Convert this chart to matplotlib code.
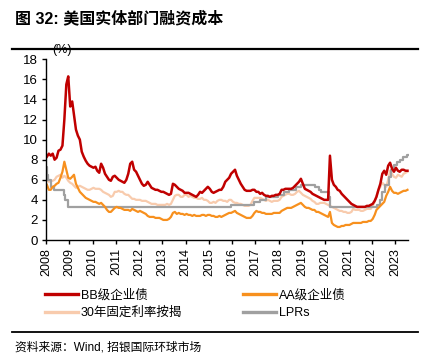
import datetime as dt
import pandas as pd
import matplotlib
matplotlib.use("Agg")
import matplotlib.pyplot as plt
import matplotlib.dates as mdates

plt.rcParams['font.family'] = ['Liberation Sans', 'Noto Sans CJK SC']

# monthly values, Jan 2008 - Jul 2023
bb_yield = [
    8.3, 8.6, 8.4, 8.6, 8.0, 8.2, 8.9, 9.0, 9.4, 12.0, 15.5, 16.3,
    13.3, 13.8, 12.5, 11.0, 10.4, 10.0, 8.8, 8.3, 7.9, 7.6, 7.4, 7.3,
    7.2, 7.3, 6.9, 6.7, 7.6, 7.2, 6.6, 6.3, 6.0, 5.9, 6.3, 6.4,
    6.2, 6.0, 5.9, 5.8, 5.7, 6.0, 6.6, 7.6, 7.8, 7.0, 6.8, 6.4,
    6.0, 5.6, 5.4, 5.5, 5.8, 5.5, 5.2, 5.1, 5.0, 5.0, 4.9, 4.8,
    4.8, 4.7, 4.6, 4.5, 4.6, 5.6, 5.5, 5.3, 5.1, 5.0, 4.9, 4.7,
    4.7, 4.7, 4.6, 4.5, 4.4, 4.3, 4.5, 4.8, 4.7, 4.9, 5.1, 5.3,
    5.1, 4.8, 4.7, 4.8, 4.9, 5.0, 5.0, 5.3, 5.8, 6.0, 6.2, 6.6,
    6.8, 7.0, 6.4, 6.0, 5.6, 5.3, 5.0, 4.9, 4.9, 4.9, 5.0, 5.0,
    4.8, 4.8, 4.6, 4.7, 4.5, 4.4, 4.4, 4.3, 4.4, 4.4, 4.5, 4.5,
    4.6, 5.0, 5.0, 5.1, 5.1, 5.1, 5.1, 5.2, 5.4, 5.6, 5.8, 6.1,
    5.6, 5.1, 5.0, 4.9, 4.8, 4.6, 4.5, 4.4, 4.3, 4.2, 4.1, 4.0,
    4.0, 4.0, 8.4, 6.0, 5.5, 5.3, 5.0, 4.9, 4.6, 4.4, 4.2, 4.0,
    3.8, 3.6, 3.5, 3.4, 3.3, 3.3, 3.3, 3.3, 3.3, 3.4, 3.4, 3.5,
    3.6, 3.9, 4.3, 5.0, 5.6, 6.6, 6.9, 6.5, 7.4, 7.7, 7.1, 6.8,
    7.2, 6.9, 6.8, 7.0, 7.0, 6.9, 6.9,
]
aa_yield = [
    5.5, 5.0, 5.0, 5.3, 5.4, 5.6, 5.7, 6.2, 6.8, 7.8, 7.0, 6.2,
    6.1, 6.3, 6.5, 5.6, 5.2, 4.8, 4.6, 4.4, 4.2, 4.1, 4.0, 3.9,
    3.8, 3.8, 3.7, 3.6, 3.7, 3.5, 3.3, 3.0, 2.8, 2.8, 3.0, 3.2,
    3.3, 3.2, 3.2, 3.1, 3.0, 3.0, 3.0, 2.9, 3.1, 3.0, 2.9, 2.8,
    2.9, 2.8, 2.7, 2.6, 2.4, 2.3, 2.3, 2.3, 2.2, 2.2, 2.2, 2.1,
    2.0, 2.0, 2.0, 2.1, 2.3, 2.7, 2.8, 2.6, 2.7, 2.6, 2.6, 2.5,
    2.6, 2.5, 2.5, 2.4, 2.5, 2.4, 2.4, 2.4, 2.5, 2.5, 2.4, 2.5,
    2.5, 2.4, 2.4, 2.3, 2.3, 2.4, 2.3, 2.4, 2.5, 2.6, 2.7, 2.7,
    2.8, 2.9, 2.7, 2.6, 2.5, 2.4, 2.3, 2.2, 2.2, 2.2, 2.4, 2.7,
    2.9, 2.8, 2.8, 2.7, 2.7, 2.6, 2.6, 2.6, 2.6, 2.7, 2.7, 2.7,
    2.7, 2.9, 3.0, 3.1, 3.2, 3.2, 3.2, 3.3, 3.4, 3.5, 3.6, 3.7,
    3.5, 3.3, 3.2, 3.2, 3.1, 3.0, 3.0, 2.8, 2.8, 2.7, 2.6, 2.5,
    2.4, 2.3, 2.8, 1.7, 1.5, 1.4, 1.3, 1.3, 1.4, 1.4, 1.5, 1.5,
    1.5, 1.6, 1.7, 1.7, 1.7, 1.7, 1.7, 1.8, 1.8, 1.8, 1.9, 1.9,
    2.1, 2.5, 3.0, 3.2, 3.4, 3.6, 3.8, 4.4, 4.8, 5.3, 4.9, 4.7,
    4.7, 4.6, 4.7, 4.8, 4.9, 4.9, 5.0,
]
mortgage_30y = [
    6.0, 5.8, 5.9, 5.9, 6.0, 6.3, 6.4, 6.5, 6.2, 6.4, 6.2, 5.9,
    5.7, 5.6, 5.4, 5.2, 5.3, 5.4, 5.3, 5.2, 5.1, 5.0, 5.0, 5.1,
    5.2, 5.1, 5.1, 5.1, 5.0, 4.8, 4.7, 4.6, 4.5, 4.3, 4.4, 4.8,
    4.8, 4.9, 4.8, 4.8, 4.6, 4.5, 4.5, 4.3, 4.1, 4.1, 4.0, 4.0,
    4.0, 3.9, 3.9, 3.9, 3.8, 3.7, 3.6, 3.6, 3.6, 3.5, 3.5, 3.5,
    3.5, 3.5, 3.6, 3.5, 3.6, 4.0, 4.4, 4.5, 4.5, 4.3, 4.3, 4.5,
    4.5, 4.3, 4.4, 4.3, 4.2, 4.2, 4.1, 4.1, 4.2, 4.0, 4.0, 3.9,
    3.7, 3.7, 3.8, 3.7, 3.9, 4.0, 4.0, 3.9, 3.9, 3.8, 4.0, 4.0,
    3.8, 3.7, 3.7, 3.6, 3.6, 3.5, 3.4, 3.4, 3.4, 3.5, 3.9, 4.2,
    4.2, 4.2, 4.2, 4.1, 4.0, 3.9, 4.0, 3.9, 3.8, 3.9, 3.9, 3.9,
    4.0, 4.3, 4.4, 4.5, 4.6, 4.6, 4.5, 4.5, 4.6, 4.8, 4.9, 4.7,
    4.5, 4.4, 4.3, 4.2, 4.1, 3.9, 3.8, 3.6, 3.6, 3.7, 3.7, 3.7,
    3.6, 3.5, 3.4, 3.3, 3.2, 3.1, 3.0, 2.9, 2.9, 2.8, 2.8, 2.7,
    2.7, 2.8, 3.1, 3.0, 3.0, 3.0, 2.9, 2.9, 3.0, 3.1, 3.1, 3.1,
    3.4, 3.8, 4.4, 5.0, 5.3, 5.7, 5.5, 5.3, 6.0, 6.9, 6.6, 6.3,
    6.2, 6.5, 6.4, 6.3, 6.6, 6.7, 6.8,
]
# prime rate changes (step series)
lpr_dates = [
    "2008-01-01", "2008-01-22", "2008-01-31", "2008-03-18", "2008-04-30",
    "2008-10-08", "2008-10-29", "2008-12-16", "2015-12-17", "2016-12-15",
    "2017-03-16", "2017-06-15", "2017-12-14", "2018-03-22", "2018-06-14",
    "2018-09-27", "2018-12-20", "2019-08-01", "2019-09-19", "2019-10-31",
    "2020-03-04", "2020-03-16", "2022-03-17", "2022-05-05", "2022-06-16",
    "2022-07-28", "2022-09-22", "2022-11-03", "2022-12-15", "2023-02-02",
    "2023-03-23", "2023-05-04", "2023-07-10", "2023-07-31",
]
lpr_rate = [
    7.25, 6.5, 6.0, 5.25, 5.0, 4.5, 4.0, 3.25, 3.5, 3.75,
    4.0, 4.25, 4.5, 4.75, 5.0, 5.25, 5.5, 5.25, 5.0, 4.75,
    4.25, 3.25, 3.5, 4.0, 4.75, 5.5, 6.25, 7.0, 7.5, 7.75,
    8.0, 8.25, 8.5, 8.5,
]
years = list(range(2008, 2024))

months = pd.date_range("2008-01-01", periods=len(bb_yield), freq="MS") + pd.Timedelta(days=14)
lpr_x = pd.to_datetime(lpr_dates)

fig = plt.figure(figsize=(4.3, 3.56), dpi=100)
ax = fig.add_axes([0.107, 0.3258, 0.843, 0.5076])

c_red = "#C00000"
c_orange = "#F7901E"
c_peach = "#F8CBAD"
c_gray = "#A0A0A0"

l_peach, = ax.plot(months, mortgage_30y, color=c_peach, lw=1.6, label="30年固定利率按揭")
l_gray, = ax.plot(lpr_x, lpr_rate, color=c_gray, lw=1.6, drawstyle="steps-post", label="LPRs")
l_orange, = ax.plot(months, aa_yield, color=c_orange, lw=1.6, label="AA级企业债")
l_red, = ax.plot(months, bb_yield, color=c_red, lw=1.8, label="BB级企业债")

ax.set_ylim(0, 18)
ax.set_yticks(range(0, 19, 2))
ax.set_xlim(dt.datetime(2008, 1, 1), dt.datetime(2023, 7, 31))
ax.set_xticks([dt.datetime(y, 1, 1) for y in years])
ax.xaxis.set_major_formatter(mdates.DateFormatter("%Y"))
ax.tick_params(axis="x", labelrotation=90, labelsize=9, length=3, width=1, pad=3)
ax.tick_params(axis="y", labelsize=9.5, length=3, width=1, pad=3)
for s in ["top", "right"]:
    ax.spines[s].set_visible(False)
for s in ["left", "bottom"]:
    ax.spines[s].set_linewidth(1.0)

fig.text(62 / 430, 1 - 50 / 356, "(%)", ha="center", va="center", fontsize=9)

fig.text(15 / 430, 1 - 18 / 356, "图 32: 美国实体部门融资成本", ha="left", va="center",
         fontsize=11.5, fontweight="bold")
fig.add_artist(plt.Line2D([12 / 430, 418 / 430], [1 - 49 / 356, 1 - 49 / 356],
                          color="black", lw=1.6))
fig.add_artist(plt.Line2D([12 / 430, 418 / 430], [1 - 331.5 / 356, 1 - 331.5 / 356],
                          color="black", lw=1.3))
fig.text(15 / 430, 1 - 347 / 356, "资料来源：Wind, 招银国际环球市场", ha="left", va="center",
         fontsize=8.5)

fig.legend([l_red, l_peach, l_orange, l_gray],
           ["BB级企业债", "30年固定利率按揭", "AA级企业债", "LPRs"],
           ncol=2, loc="upper left", bbox_to_anchor=(45 / 430, 1 - 289 / 356),
           frameon=False, fontsize=9, handlelength=2.6, handletextpad=0.25,
           columnspacing=4.9, labelspacing=0.45, borderpad=0, borderaxespad=0)
for h in fig.legends[0].legend_handles:
    h.set_linewidth(2.4)

fig.savefig("out.png", dpi=100)
